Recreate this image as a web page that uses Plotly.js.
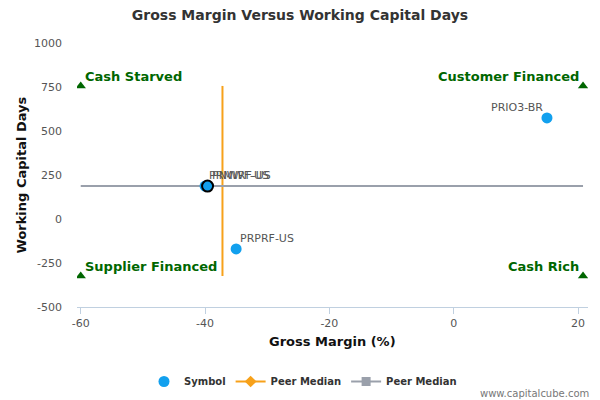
<!DOCTYPE html>
<html>
<head>
<meta charset="utf-8">
<script src="https://cdn.plot.ly/plotly-3.0.1.min.js"></script>
<style>
  html, body { margin: 0; padding: 0; background: #fff; }
  #chart { width: 600px; height: 400px; }
</style>
</head>
<body>
<div id="chart"></div>
<script>
// peer companies
const symbols = ["PRIO3-BR", "PRPRF-US", "PRMWF-US", "PNWRF-US"];
const grossMargin = [15.0, -35.0, -40.0, -39.6];
const wcDays = [574, -170, 187, 187];
const labelSide = ["left", "right", "right", "right"];

// peer medians
const medianX = -37.2;
const medianY = 187;

// quadrant corners
const quadNames = ["Cash Starved", "Customer Financed", "Supplier Financed", "Cash Rich"];
const quadX = [-60, 20.8, -60, 20.8];
const quadY = [756, 756, -324, -324];

// axis ticks
const xTicks = [-60, -40, -20, 0, 20];
const xTickText = ["-60", "-40", "-20", "0", "20"];
const yTicks = [-500, -250, 0, 250, 500, 750, 1000];
const yTickText = ["-500", "-250", "0", "250", "500", "750", "1000"];

const green = "#006600";
const blue = "#12a0ee";
const orange = "#f7a11a";
const grey = "#9aa0ab";

const traces = [];

// vertical peer median (gross margin)
traces.push({
    x: [medianX, medianX], y: [quadY[2], quadY[0]],
    mode: "lines", line: { color: orange, width: 2 },
    showlegend: false, hoverinfo: "skip"
});
// horizontal peer median (working capital days)
traces.push({
    x: [quadX[0], quadX[1]], y: [medianY, medianY],
    mode: "lines", line: { color: grey, width: 2 },
    showlegend: false, hoverinfo: "skip"
});

// corner triangles
traces.push({
    x: quadX, y: quadY, mode: "markers",
    marker: { symbol: "triangle-up", size: 9, color: green },
    showlegend: false, hoverinfo: "skip"
});

// symbols
traces.push({
    x: grossMargin.slice(0, 3), y: wcDays.slice(0, 3),
    mode: "markers",
    marker: { color: blue, size: 11 },
    name: "<b>Symbol</b>"
});
// highlighted company
traces.push({
    x: [grossMargin[3]], y: [wcDays[3]], mode: "markers",
    marker: { color: blue, size: 11, line: { color: "#000", width: 2 } },
    showlegend: false
});

// legend-only entries
traces.push({
    x: [null], y: [null], mode: "lines+markers", name: "<b>Peer Median</b>",
    line: { color: orange, width: 2 },
    marker: { symbol: "diamond", size: 9, color: orange }
});
traces.push({
    x: [null], y: [null], mode: "lines+markers", name: "<b>Peer Median</b>",
    line: { color: grey, width: 2 },
    marker: { symbol: "square", size: 9, color: grey }
});

const annotations = quadNames.map((name, i) => ({
    x: quadX[i], y: quadY[i], xref: "x", yref: "y",
    text: "<b>" + name + "</b>", showarrow: false,
    xanchor: i % 2 === 0 ? "left" : "right",
    yanchor: "bottom",
    xshift: i % 2 === 0 ? 2 : -2, yshift: 0,
    font: { family: "DejaVu Sans", size: 13, color: green }
}));

// point labels
symbols.forEach((s, i) => annotations.push({
    x: grossMargin[i], y: wcDays[i], xref: "x", yref: "y",
    text: s, showarrow: false,
    xanchor: labelSide[i] === "left" ? "right" : "left", yanchor: "bottom",
    xshift: labelSide[i] === "left" ? -2 : 2, yshift: 2,
    font: { family: "DejaVu Sans", size: 11, color: "#555" }
}));

// axis titles
annotations.push({
    xref: "paper", yref: "paper", x: 0, y: 0.5, xshift: -66,
    textangle: -90, showarrow: false,
    text: "<b>Working Capital Days</b>",
    font: { family: "DejaVu Sans", size: 13, color: "#111" }
});
annotations.push({
    xref: "paper", yref: "paper", x: 0.5, y: 0, yshift: -34,
    yanchor: "middle", showarrow: false,
    text: "<b>Gross Margin (%)</b>",
    font: { family: "DejaVu Sans", size: 13, color: "#111" }
});

annotations.push({
    xref: "paper", yref: "paper", x: 1, y: -0.30, xshift: 3,
    xanchor: "right", yanchor: "top", showarrow: false,
    text: "www.capitalcube.com",
    font: { family: "DejaVu Sans", size: 10, color: "#777" }
});

const layout = {
    width: 600, height: 400,
    margin: { l: 77, r: 12, t: 43, b: 93 },
    paper_bgcolor: "#fff", plot_bgcolor: "#fff",
    font: { family: "DejaVu Sans", color: "#555" },
    title: {
        text: "<b>Gross Margin Versus Working Capital Days</b>",
        font: { family: "DejaVu Sans", size: 14, color: "#333" },
        x: 0.5, xanchor: "center", y: 0.975, yanchor: "top"
    },
    xaxis: {
        range: [-60.6, 21.6], tickvals: xTicks, ticktext: xTickText,
        showgrid: false, zeroline: false, automargin: false,
        showline: true, linecolor: "#c0d0e0", linewidth: 1,
        ticks: "outside", ticklen: 6, tickcolor: "#c0d0e0",
        tickfont: { size: 11, color: "#555" }
    },
    yaxis: {
        range: [-500, 1000], tickvals: yTicks, ticktext: yTickText,
        showgrid: false, zeroline: false, showline: false, automargin: false,
        tickfont: { size: 11, color: "#555" },
        ticklabelstandoff: 14
    },
    legend: {
        orientation: "h", xref: "container", x: 0.505, xanchor: "center",
        yref: "container", y: 0.01, yanchor: "bottom",
        font: { family: "DejaVu Sans", size: 10, color: "#333" },
        itemwidth: 30
    },
    annotations: annotations,
    hovermode: false
};

Plotly.newPlot("chart", traces, layout, { displayModeBar: false, staticPlot: true });
</script>
</body>
</html>
